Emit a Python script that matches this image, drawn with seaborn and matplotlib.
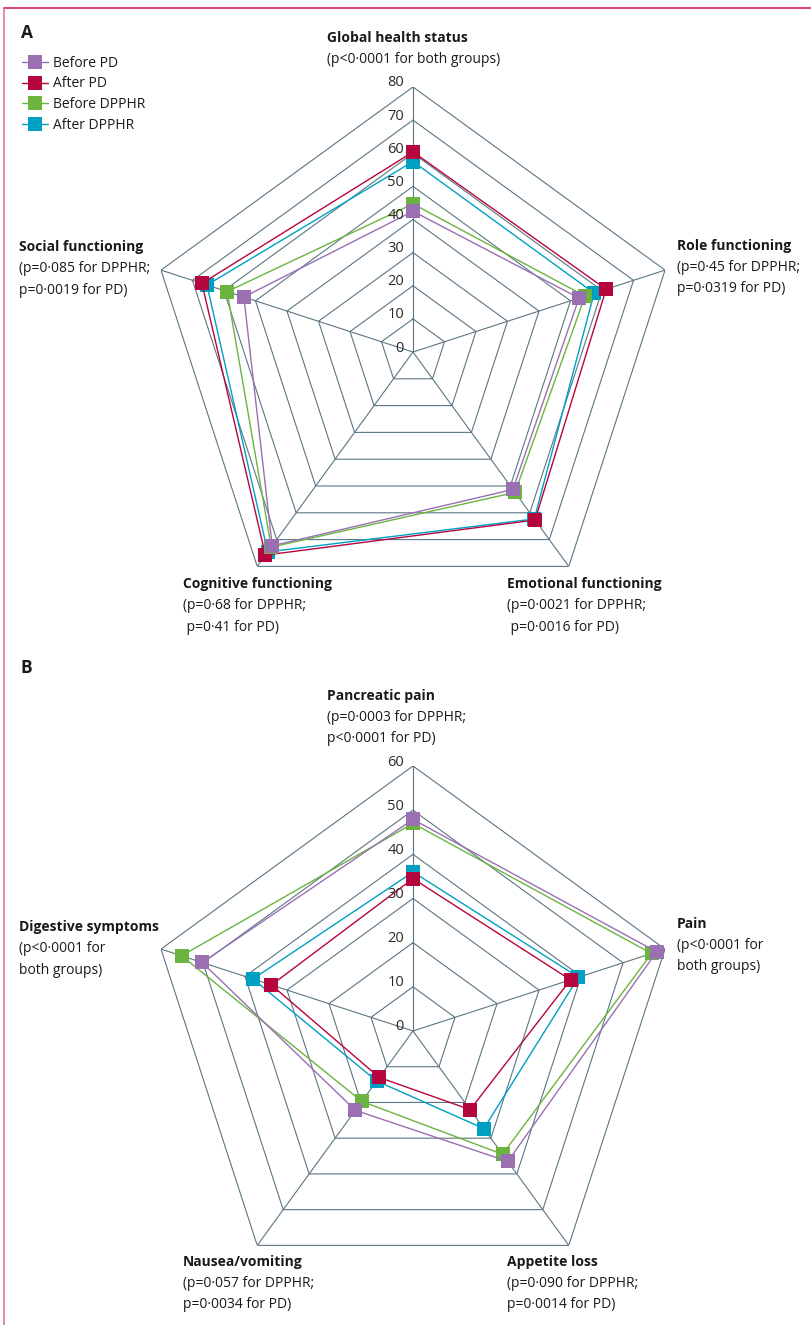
import numpy as np
import pandas as pd
import matplotlib
matplotlib.use("Agg")
import matplotlib.pyplot as plt
import matplotlib.transforms as mtransforms
import seaborn as sns

# panel A: QLQ-C30 functioning scales
dims_a = ["Global health status", "Role functioning", "Emotional functioning",
          "Cognitive functioning", "Social functioning"]
before_pd_a = [42.5, 52.7, 51.3, 72.3, 53.7]
after_pd_a = [60.4, 61.3, 62.7, 75.8, 67.0]
before_dpphr_a = [44.7, 54.6, 52.4, 72.8, 59.0]
after_dpphr_a = [57.5, 57.5, 62.3, 74.6, 65.4]
ticks_a = [0, 10, 20, 30, 40, 50, 60, 70, 80]

# panel B: pancreatic symptom scales
dims_b = ["Pancreatic pain", "Pain", "Appetite loss", "Nausea/vomiting", "Digestive symptoms"]
before_pd_b = [47.9, 58.0, 36.5, 22.2, 50.2]
after_pd_b = [34.5, 37.5, 22.0, 13.0, 33.7]
before_dpphr_b = [47.0, 56.8, 34.5, 19.7, 55.1]
after_dpphr_b = [36.0, 39.4, 27.3, 14.0, 38.1]
ticks_b = [0, 10, 20, 30, 40, 50, 60]

series_names = ["Before PD", "After PD", "Before DPPHR", "After DPPHR"]
colors = {"Before PD": "#9a70b3", "After PD": "#b5063d",
          "Before DPPHR": "#6bb43f", "After DPPHR": "#00a0c3"}
draw_order = ["After DPPHR", "After PD", "Before DPPHR", "Before PD"]

GRID = "#5b7683"
TXT = "#1a1a1a"
FS = 10
W, H = 811, 1325

sns.set_style("white")
plt.rcParams["font.family"] = ["Open Sans", "DejaVu Sans"]

fig = plt.figure(figsize=(W / 100, H / 100), dpi=100)


def px(x, y):
    return x / W, 1 - y / H


def radar(cx, cy, rad, ticks, series):
    l, b = px(cx - rad, cy + rad)
    ax = fig.add_axes([l, b, 2 * rad / W, 2 * rad / H], projection="polar")
    ax.set_theta_offset(np.pi / 2)
    ax.set_theta_direction(-1)
    ax.grid(False)
    ax.set_xticks([])
    ax.set_yticks([])
    ax.spines["polar"].set_visible(False)
    ax.patch.set_alpha(0)
    theta = np.linspace(0, 2 * np.pi, 6)
    for t in ticks[1:]:
        ax.plot(theta, [t] * 6, color=GRID, lw=0.8, zorder=1)
    for th in theta[:-1]:
        ax.plot([th, th], [0, ticks[-1]], color=GRID, lw=0.8, zorder=1)
    off = mtransforms.offset_copy(ax.transData, fig=fig, x=-9, y=4, units="dots")
    for t in ticks:
        ax.text(0, t, str(t), transform=off, ha="right", va="center",
                fontsize=10.5, color="#2a2a2a", zorder=5)
    for name in draw_order:
        vals = series[name]
        df = pd.DataFrame({"theta": theta, "r": list(vals) + [vals[0]]})
        sns.lineplot(data=df, x="theta", y="r", sort=False, estimator=None,
                     color=colors[name], lw=1.0, marker="s", markersize=9.5,
                     markeredgewidth=0, label=name, ax=ax, zorder=3)
    ax.set_ylim(0, ticks[-1])
    ax.set_xlabel("")
    ax.set_ylabel("")
    return ax


ax_a = radar(413, 352, 265, ticks_a, {
    "Before PD": before_pd_a, "After PD": after_pd_a,
    "Before DPPHR": before_dpphr_a, "After DPPHR": after_dpphr_a})
ax_b = radar(413, 1031, 265, ticks_b, {
    "Before PD": before_pd_b, "After PD": after_pd_b,
    "Before DPPHR": before_dpphr_b, "After DPPHR": after_dpphr_b})

# legend only in panel A, in the original order
h, lab = ax_a.get_legend_handles_labels()
hd = dict(zip(lab, h))
ax_b.get_legend().remove()
ax_a.get_legend().remove()
fig.legend([hd[n] for n in series_names], series_names, loc="upper left",
           bbox_to_anchor=px(16, 50), frameon=False, fontsize=FS,
           handlelength=1.9, handletextpad=0.35, labelspacing=0.42,
           borderaxespad=0, labelcolor=TXT)

# panel letters
fig.text(*px(21, 33), "A", fontsize=12.5, fontweight="bold", va="center", color=TXT)
fig.text(*px(21, 668), "B", fontsize=12.5, fontweight="bold", va="center", color=TXT)


def label(x, y, title, lines):
    fig.text(*px(x, y), title, fontsize=FS, fontweight="bold", va="center", color=TXT)
    for i, s in enumerate(lines):
        fig.text(*px(x, y + 21.5 * (i + 1)), s, fontsize=FS, va="center", color=TXT)


label(327, 38, dims_a[0], ["(p<0·0001 for both groups)"])
label(677, 246, dims_a[1], ["(p=0·45 for DPPHR;", "p=0·0319 for PD)"])
label(507, 584, dims_a[2], ["(p=0·0021 for DPPHR;", " p=0·0016 for PD)"])
label(183, 584, dims_a[3], ["(p=0·68 for DPPHR;", " p=0·41 for PD)"])
label(19, 247, dims_a[4], ["(p=0·085 for DPPHR;", "p=0·0019 for PD)"])

label(327, 696, dims_b[0], ["(p=0·0003 for DPPHR;", "p<0·0001 for PD)"])
label(677, 924, dims_b[1], ["(p<0·0001 for", "both groups)"])
label(507, 1262, dims_b[2], ["(p=0·090 for DPPHR;", "p=0·0014 for PD)"])
label(183, 1262, dims_b[3], ["(p=0·057 for DPPHR;", "p=0·0034 for PD)"])
label(19, 927, dims_b[4], ["(p<0·0001 for", "both groups)"])

# page frame (top and left rule)
fig.add_artist(plt.Line2D([4 / W, 1], [1 - 8 / H, 1 - 8 / H], color="#d6336a", lw=1.3))
fig.add_artist(plt.Line2D([4 / W, 4 / W], [0, 1 - 8 / H], color="#dc6a8f", lw=1.1))

fig.savefig("out.png", dpi=100)
